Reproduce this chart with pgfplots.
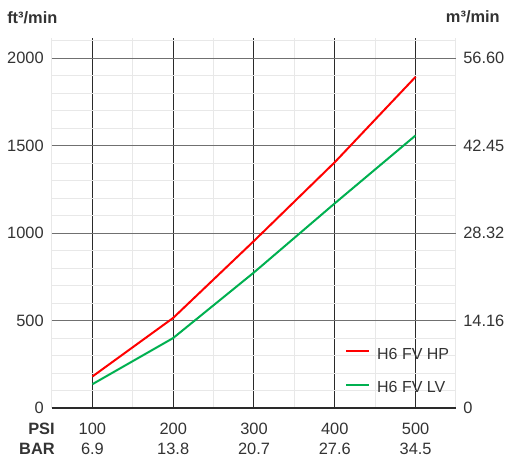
\documentclass[border=0pt]{standalone}
\usepackage{pgfplots}
\pgfplotsset{compat=1.18}
\usepackage{fontspec}
\setmainfont{Liberation Sans}
\definecolor{txt}{HTML}{333333}
\definecolor{hp}{HTML}{FF0000}
\definecolor{lv}{HTML}{00B050}
\definecolor{minorg}{HTML}{E8E8E8}
\definecolor{majh}{HTML}{707070}
\definecolor{majv}{HTML}{2A2A2A}
\begin{document}
\begin{tikzpicture}[x=1pt,y=1pt]
\path[use as bounding box] (-39pt,-36pt) rectangle (340.5pt,306pt);
\pgfplotsset{
  common/.style={
    scale only axis, width=303pt, height=277.5pt,
    xmin=50, xmax=550, ymin=0, ymax=2115,
    axis line style={draw=none},
    tick style={draw=none},
    major tick length=0pt,
    clip=false,
    /pgf/number format/assume math mode=true,
    /pgf/number format/1000 sep={},
    ticklabel style={font=\fontsize{12.3}{15}\selectfont, text=txt},
  }
}
\begin{axis}[common,
  xtick={100,200,300,400,500},
  xticklabels={100\\6.9,200\\13.8,300\\20.7,400\\27.6,500\\34.5},
  xticklabel style={align=center, anchor=north, inner sep=0pt, yshift=-11pt},
  minor xtick={50,150,250,350,450,550},
  ytick={500,1000,1500,2000},
  minor ytick={100,200,300,400,600,700,800,900,1100,1200,1300,1400,1600,1700,1800,1900,2100},
  yticklabel style={anchor=east, inner sep=0pt, xshift=-6pt},
  extra y ticks={0},
  extra y tick style={major grid style={color=majv, line width=0.9pt}},
  grid=both,
  minor grid style={color=minorg, line width=0.75pt},
  major grid style={color=majh, line width=0.75pt},
  major x grid style={color=majv, line width=0.75pt},
  legend cell align=left,
  legend style={draw=none, fill=none, at={(rel axis cs:0.725,0.032)}, anchor=south west,
    font=\fontsize{12}{13}\selectfont, text=txt, row sep=14pt, inner sep=0pt,
    nodes={inner sep=0pt, text height=8.6pt, text depth=2.4pt}},
  legend image code/.code={\draw[#1] (0pt,3pt) -- (17.25pt,3pt);},
  /tikz/every odd column/.append style={column sep=5.25pt},
]
\addplot[color=hp, line width=1.5pt] coordinates {(100,180) (200,515) (300,955) (400,1405) (500,1893)};
\addlegendentry{H6 FV HP}
\addplot[color=lv, line width=1.5pt] coordinates {(100,136) (200,400) (300,775) (400,1170) (500,1558)};
\addlegendentry{H6 FV LV}
\node[anchor=north east, align=right, inner sep=0pt, font=\fontsize{12.3}{15}\selectfont\bfseries, text=txt]
  at ([xshift=2.25pt,yshift=-11pt]rel axis cs:0,0) {PSI\\BAR};
\node[anchor=west, inner sep=0pt, font=\fontsize{12.3}{13}\selectfont\bfseries, text=txt]
  at ([xshift=-33.75pt,yshift=15pt]rel axis cs:0,1) {ft³/min};
\node[anchor=east, inner sep=0pt, font=\fontsize{12.3}{13}\selectfont\bfseries, text=txt]
  at ([xshift=33pt,yshift=15.75pt]rel axis cs:1,1) {m³/min};
\end{axis}
\begin{axis}[common,
  hide x axis,
  axis y line*=right,
  ytick={0,500,1000,1500,2000},
  yticklabels={0,14.16,28.32,42.45,56.60},
  yticklabel style={anchor=west, inner sep=0pt, xshift=5.25pt},
]
\end{axis}
\end{tikzpicture}
\end{document}
